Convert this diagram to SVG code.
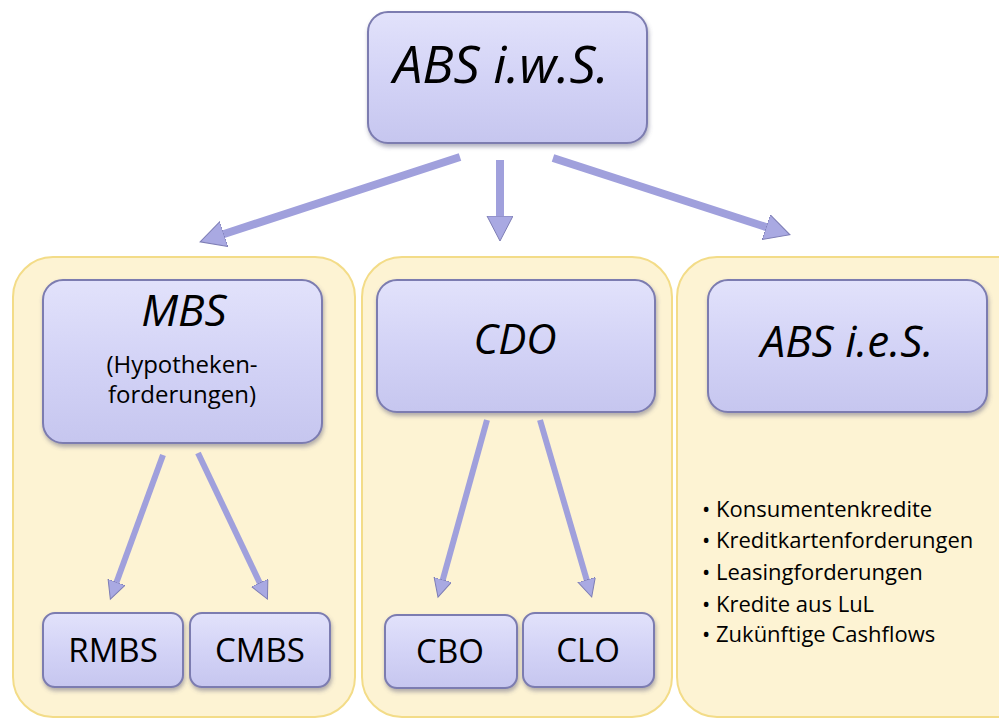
<svg xmlns="http://www.w3.org/2000/svg" width="999" height="718" viewBox="0 0 999 718">
<defs>
<linearGradient id="boxg" x1="0" y1="0" x2="0" y2="1">
<stop offset="0" stop-color="#e2e2fb"/>
<stop offset="0.5" stop-color="#d3d3f6"/>
<stop offset="1" stop-color="#c6c6ef"/>
</linearGradient>
<linearGradient id="arrg" x1="0" y1="0" x2="1" y2="1">
<stop offset="0" stop-color="#b3b3e8"/>
<stop offset="1" stop-color="#9a9ad6"/>
</linearGradient>
<filter id="sh" x="-10%" y="-10%" width="120%" height="130%">
<feDropShadow dx="1" dy="3" stdDeviation="2" flood-color="#555577" flood-opacity="0.45"/>
</filter>
<marker id="ah" markerUnits="userSpaceOnUse" markerWidth="28" markerHeight="28" refX="3" refY="13" orient="auto">
<path d="M0,0 L25,13 L0,26 z" fill="#a9a9e2" stroke="#7d7db5" stroke-width="1"/>
</marker>
<marker id="ahs" markerUnits="userSpaceOnUse" markerWidth="22" markerHeight="22" refX="3" refY="9" orient="auto">
<path d="M0,0 L18,9 L0,18 z" fill="#a9a9e2" stroke="#7d7db5" stroke-width="1"/>
</marker>
</defs>
<style>
.cont{fill:#fdf3d3;stroke:#f3dc88;stroke-width:2}
.box{fill:url(#boxg);stroke:#7c7cb0;stroke-width:2;filter:url(#sh)}
.t{font-family:"Open Sans","Liberation Sans",sans-serif;fill:#000;text-anchor:middle}
.it{font-style:italic}
.big{stroke:#a0a0dc;stroke-width:8;fill:none;marker-end:url(#ah)}
.sm{stroke:#a0a0dc;stroke-width:6;fill:none;marker-end:url(#ahs)}
.bl{font-family:"Open Sans","Liberation Sans",sans-serif;fill:#000;font-size:22px}
</style>
<rect width="999" height="718" fill="#ffffff"/>
<g id="container-mbs"><rect class="cont" x="13" y="257" width="342" height="460" rx="40"/></g>
<g id="container-cdo"><rect class="cont" x="362" y="257" width="310" height="460" rx="40"/></g>
<g id="container-abs-ies"><rect class="cont" x="677" y="257" width="360" height="460" rx="40"/></g>
<g id="connectors">
<line class="big" x1="460" y1="157" x2="221" y2="235"/>
<line class="big" x1="500" y1="160" x2="500" y2="219"/>
<line class="big" x1="553" y1="158" x2="769" y2="228"/>
<line class="sm" x1="163" y1="455" x2="115.5" y2="585"/>
<line class="sm" x1="198" y1="453" x2="261" y2="585.5"/>
<line class="sm" x1="487" y1="420" x2="442" y2="582.6"/>
<line class="sm" x1="540" y1="420" x2="587.5" y2="582.6"/>
</g>
<g id="abs-iws"><rect class="box" x="368" y="12" width="279" height="131" rx="20"/><text class="t it" x="501" y="83" font-size="52">ABS i.w.S.</text></g>
<g id="mbs"><rect class="box" x="43" y="280" width="279" height="163" rx="20"/>
<text class="t it" x="184" y="326" font-size="44">MBS</text>
<text class="t" x="182" y="373" font-size="24">(Hypotheken-</text>
<text class="t" x="182" y="403" font-size="24">forderungen)</text></g>
<g id="cdo"><rect class="box" x="377" y="280" width="278" height="132" rx="20"/><text class="t it" x="515" y="354" font-size="42">CDO</text></g>
<g id="abs-ies"><rect class="box" x="708" y="280" width="279" height="132" rx="20"/><text class="t it" x="847" y="357" font-size="44">ABS i.e.S.</text></g>
<g id="rmbs"><rect class="box" x="43" y="613" width="140" height="74" rx="12"/><text class="t" x="113" y="662" font-size="33">RMBS</text></g>
<g id="cmbs"><rect class="box" x="190" y="613" width="140" height="74" rx="12"/><text class="t" x="260" y="662" font-size="33">CMBS</text></g>
<g id="cbo"><rect class="box" x="385" y="615" width="132" height="73" rx="12"/><text class="t" x="450" y="663" font-size="33">CBO</text></g>
<g id="clo"><rect class="box" x="523" y="613" width="131" height="74" rx="12"/><text class="t" x="588" y="662" font-size="33">CLO</text></g>
<g id="abs-ies-list">
<text class="bl" x="702" y="517">• Konsumentenkredite</text>
<text class="bl" x="702" y="548">• Kreditkartenforderungen</text>
<text class="bl" x="702" y="580">• Leasingforderungen</text>
<text class="bl" x="702" y="612">• Kredite aus LuL</text>
<text class="bl" x="702" y="642">• Zukünftige Cashflows</text>
</g>
</svg>
